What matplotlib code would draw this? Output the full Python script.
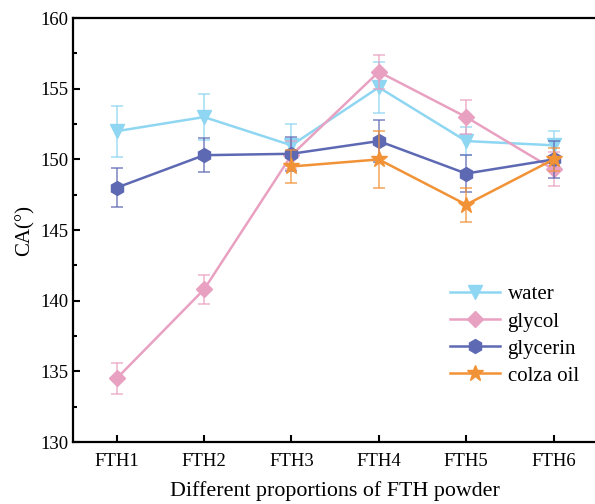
import matplotlib.pyplot as plt
import numpy as np

plt.rcParams['font.family'] = ['Liberation Serif', 'DejaVu Serif']

labels = ['FTH1', 'FTH2', 'FTH3', 'FTH4', 'FTH5', 'FTH6']

water = [152.0, 153.0, 151.0, 155.1, 151.3, 151.0]
water_err = [1.8, 1.6, 1.5, 1.8, 1.0, 1.0]

glycol = [134.5, 140.8, 150.3, 156.2, 153.0, 149.3]
glycol_err = [1.1, 1.0, 1.0, 1.2, 1.2, 1.2]

glycerin = [148.0, 150.3, 150.4, 151.3, 149.0, 150.0]
glycerin_err = [1.4, 1.2, 1.2, 1.5, 1.3, 1.3]

colza_labels = ['FTH3', 'FTH4', 'FTH5', 'FTH6']
colza = [149.5, 150.0, 146.8, 150.0]
colza_err = [1.2, 2.0, 1.2, 0.8]

x = np.arange(1, len(labels) + 1)
xc = np.array([labels.index(l) + 1 for l in colza_labels])

fig = plt.figure(figsize=(5.95, 5.04), dpi=100)
ax = fig.add_axes([0.1227, 0.123, 0.881, 0.841])

series = [
    ('water', x, water, water_err, '#8fd6f2', 'v', 10),
    ('glycol', x, glycol, glycol_err, '#e9a1c2', 'D', 8),
    ('glycerin', x, glycerin, glycerin_err, '#5e69b3', 'h', 10),
    ('colza oil', xc, colza, colza_err, '#f29236', '*', 12),
]

for name, xs, ys, es, col, mk, ms in series:
    ax.errorbar(xs, ys, yerr=es, fmt='none', ecolor=col, alpha=0.75,
                elinewidth=1.2, capsize=4.5, capthick=1.2)
    ax.plot(xs, ys, color=col, marker=mk, markersize=ms, linewidth=1.8,
            label=name)

ax.set_xlim(0.5, 6.5)
ax.set_ylim(130, 160)
ax.set_xticks(x)
ax.set_xticklabels(labels)
ax.set_yticks(np.arange(130, 161, 5))
ax.set_yticks(np.arange(130, 160, 2.5), minor=True)
ax.tick_params(axis='both', direction='in', labelsize=13.5, width=1.5, length=5)
ax.tick_params(axis='y', which='minor', direction='in', width=1.5, length=3)
ax.tick_params(axis='x', pad=8)
for s in ax.spines.values():
    s.set_linewidth(1.6)

ax.set_xlabel('Different proportions of FTH powder', fontsize=15.8, labelpad=8)
ax.set_ylabel('CA(°)', fontsize=15, labelpad=4)

ax.legend(loc='upper left', bbox_to_anchor=(0.684, 0.415), frameon=False,
          fontsize=15, handlelength=2.4, handletextpad=0.35, labelspacing=0.36)

fig.savefig('out.png', dpi=100)
